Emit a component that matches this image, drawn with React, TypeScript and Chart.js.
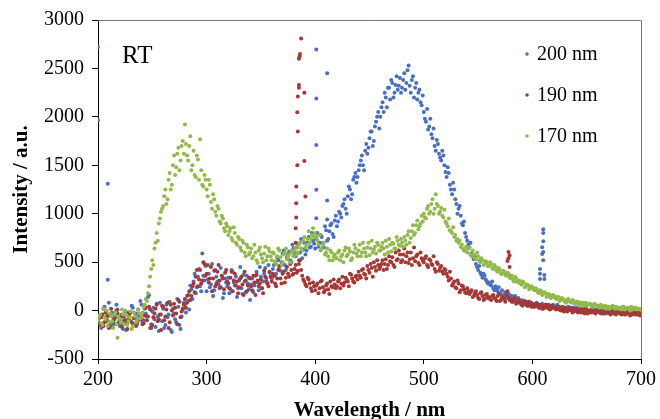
import React, { useEffect, useRef } from "react";
import { Chart, registerables } from "chart.js";

Chart.register(...registerables);

// ---------- DATA ----------
// Readings every 2 nm on even wavelengths (200..700) and on odd wavelengths (201..699)
const EVEN_START_NM = 200;
const ODD_START_NM = 201;
const STEP_NM = 2;

const SERIES_LABELS = ["200 nm", "190 nm", "170 nm"];
const RT_LABEL = "RT";
const X_TITLE = "Wavelength / nm";
const Y_TITLE = "Intensity / a.u.";

// 200 nm excitation (blue)
const blue200Even = [
  -120, -60, -150, 40, -90, 80, -40, -130, -70, 10,
  -160, -40, -100, -200, -20, -110, 30, -80, -140, -60,
  60, -100, -30, 140, -180, -10, -90, 70, -210, -40,
  20, -150, -70, 90, -220, -30, -120, 40, -190, 10,
  60, 150, 10, 220, 300, 180, 350, 250, 590, 310,
  200, 380, 270, 150, 420, 300, 230, 360, 180, 290,
  340, 220, 400, 260, 140, 310, 230, 370, 190, 280,
  110, 330, 260, 400, 210, 350, 300, 440, 280, 390,
  330, 470, 380, 520, 410, 590, 470, 550, 610, 500,
  640, 560, 690, 600, 540, 700, 620, 760, 660, 720,
  640, 800, 700, 760, 650, 830, 740, 880, 790, 930,
  870, 1020, 960, 1100, 1050, 1180, 1250, 1200, 1380, 1320,
  1450, 1550, 1500, 1650, 1620, 1780, 1850, 1750, 1950, 2050,
  2000, 2150, 2250, 2100, 2300, 2380, 2200, 2330, 2280, 2400,
  2300, 2450, 2350, 2530, 2250, 2420, 2300, 2180, 2280, 2120,
  2050, 1950, 1870, 1980, 1780, 1700, 1760, 1620, 1550, 1600,
  1430, 1480, 1300, 1200, 1250, 1100, 1050, 980, 880, 800,
  720, 650, 590, 530, 480, 420, 390, 340, 360, 300,
  290, 260, 230, 250, 200, 180, 210, 160, 140, 170,
  130, 120, 150, 100, 90, 110, 80, 70, 90, 60,
  70, 50, 80, 40, 60, 50, 60, 30, 50, 40,
  50, 30, 40, 20, 40, 10, 30, 20, 0, 30,
  10, 20, -10, 20, 0, 10, -20, 10, 0, -10,
  10, -20, 0, -10, -30, 0, -20, -10, -30, -10,
  -20, -30, 0, -40, -20, -10, -30, -20, -40, -10,
  -20,
];
const blue200Odd = [
  -80, -180, 20, -110, -50, -150, -20, -90, 60, -130,
  -70, -190, -10, -120, -60, 50, -140, -30, -100, 100,
  -120, 20, -60, 160, -140, 30, -170, -60, 80, -110,
  -180, 60, -40, -200, 20, -90, 120, -150, -60, 80,
  -20, 100, 260, 120, 380, 240, 430, 200, 360, 460,
  320, 240, 480, 210, 350, 270, 440, 130, 330, 250,
  180, 420, 290, 350, 230, 450, 170, 300, 360, 220,
  270, 190, 360, 290, 450, 230, 380, 330, 470, 350,
  430, 360, 550, 450, 500, 620, 420, 580, 520, 680,
  590, 650, 520, 740, 630, 580, 700, 650, 800, 690,
  740, 660, 780, 700, 870, 720, 820, 900, 760, 980,
  920, 1000, 1080, 1150, 1000, 1280, 1150, 1350, 1420, 1380,
  1500, 1600, 1450, 1720, 1680, 1850, 1700, 1900, 2000, 1880,
  2100, 2050, 2200, 2300, 2180, 2350, 2250, 2420, 2320, 2250,
  2380, 2280, 2480, 2320, 2380, 2200, 2350, 2250, 2150, 2220,
  1980, 2080, 1900, 1820, 1880, 1650, 1720, 1580, 1650, 1500,
  1380, 1420, 1250, 1320, 1150, 1000, 1080, 900, 920, 760,
  680, 700, 560, 560, 450, 460, 370, 380, 320, 280,
  270, 300, 210, 220, 240, 170, 150, 190, 130, 160,
  150, 100, 110, 130, 70, 100, 90, 50, 70, 80,
  40, 70, 60, 30, 70, 40, 60, 50, 20, 60,
  30, 60, 10, 40, 30, 0, 40, 10, 30, 20,
  30, 0, 20, -10, 20, -20, 0, 20, -10, 10,
  -10, 0, -30, 10, -20, -10, 0, -30, -20, 0,
  -30, -10, -20, -30, 0, -40, -20, -10, -30, -20,
];
// sharp lines of the 200 nm series
const blueSpikeX = [200, 200, 209, 209, 401, 411, 401, 401, 401, 411, 401, 411, 607, 607, 607, 611, 611, 610, 610, 610, 609, 610, 609, 610];
const blueSpikeY = [2720, 1965, 1310, 317, 2695, 2450, 2190, 1709, 1247, 1136, 952, 940, 430, 380, 327, 368, 327, 840, 800, 716, 655, 604, 583, 520];

// 190 nm excitation (red)
const red190Even = [
  -90, -150, -40, -120, -60, -180, 20, -100, -140, -30,
  -110, -170, -60, -130, -90, -20, -150, -70, -120, -40,
  -80, -130, 30, -60, 10, -150, -30, 60, -90, -200,
  40, -60, 80, -120, 0, 70, -30, 110, -70, 20,
  120, 80, 200, 150, 280, 350, 250, 420, 310, 480,
  380, 290, 450, 330, 250, 400, 310, 360, 220, 420,
  280, 340, 200, 380, 300, 240, 350, 160, 310, 260,
  330, 210, 290, 370, 250, 320, 180, 350, 280, 400,
  300, 360, 250, 420, 330, 380, 290, 450, 350, 420,
  380, 470, 410, 520, 360, 300, 250, 320, 230, 290,
  210, 280, 230, 310, 190, 260, 220, 300, 240, 270,
  250, 320, 280, 260, 340, 300, 380, 330, 290, 360,
  400, 340, 430, 370, 460, 390, 440, 500, 410, 470,
  450, 520, 480, 430, 560, 500, 470, 600, 530, 580,
  520, 640, 560, 490, 600, 540, 510, 580, 470, 540,
  500, 560, 450, 520, 470, 430, 500, 410, 460, 380,
  420, 350, 400, 260, 300, 230, 280, 210, 250, 190,
  230, 170, 210, 150, 200, 130, 180, 150, 120, 170,
  140, 110, 160, 120, 150, 100, 140, 120, 160, 130,
  110, 90, 130, 80, 100, 60, 90, 70, 50, 80,
  60, 40, 70, 30, 50, 20, 60, 40, 10, 50,
  30, 10, 40, 0, 20, 30, -10, 20, 10, -10,
  10, -20, 0, 10, -30, 0, -10, -20, 10, -30,
  -10, -20, 0, -30, -10, -20, -40, -10, -30, -20,
  -20, -40, -10, -30, -20, -50, -30, -20, -40, -30,
  -30,
];
const red190Odd = [
  -130, -70, -160, -20, -110, -50, -170, -80, 0, -120,
  -60, -140, -100, -190, -30, -120, -80, -160, 10, -90,
  -140, -50, -100, 40, -180, -70, 20, -110, -40, 50,
  -100, 10, -180, 60, -50, 30, -140, 90, -10, 60,
  30, 160, 110, 250, 190, 420, 320, 280, 500, 360,
  470, 330, 200, 410, 280, 470, 240, 330, 390, 300,
  230, 400, 310, 260, 180, 330, 270, 400, 200, 340,
  250, 360, 160, 310, 280, 230, 410, 300, 250, 350,
  380, 280, 330, 460, 280, 400, 340, 380, 480, 370,
  430, 390, 480, 420, 320, 270, 340, 280, 200, 250,
  260, 180, 300, 240, 210, 280, 170, 250, 320, 230,
  300, 230, 350, 290, 320, 250, 370, 300, 350, 320,
  360, 420, 380, 330, 420, 480, 350, 450, 520, 430,
  480, 420, 530, 470, 510, 550, 450, 520, 620, 500,
  580, 500, 600, 530, 470, 650, 560, 490, 600, 520,
  540, 470, 530, 480, 560, 400, 480, 440, 400, 430,
  380, 310, 330, 280, 240, 310, 190, 260, 220, 180,
  200, 190, 140, 180, 160, 120, 190, 110, 160, 130,
  120, 150, 130, 100, 170, 110, 130, 90, 200, 110,
  90, 120, 70, 110, 80, 50, 100, 60, 90, 40,
  50, 70, 40, 60, 20, 50, 30, 60, 20, 40,
  20, 40, 10, 30, -10, 20, 0, 30, -20, 20,
  -10, 10, -20, 0, 20, -30, 0, 10, -20, -10,
  0, -30, -10, -20, 10, -30, -20, 0, -40, -10,
  -30, -10, -40, -20, -30, -10, -40, -30, -20, -50,
];
const redSpikeX = [382, 382, 382.5, 382.5, 382.6, 383.5, 384, 383.5, 384, 385, 385, 385.6, 385, 386, 387, 390, 390, 391, 577, 578, 578, 579, 579, 580];
const redSpikeY = [700, 850, 962, 1108, 1282, 1500, 1850, 2047, 2210, 2300, 2330, 2627, 2600, 2650, 2808, 2250, 1545, 1177, 512, 540, 604, 570, 450, 360];

// 170 nm excitation (green)
const green170Even = [
  -100, -40, -150, -70, 0, -120, -60, -180, -20, -280,
  -90, 10, -140, -50, -110, -10, -160, -60, -100, -30,
  -60, 40, 120, 180, 350, 520, 640, 800, 900, 1020,
  1080, 1250, 1150, 1420, 1300, 1600, 1480, 1680, 1550, 1750,
  1920, 1600, 1700, 1450, 1650, 1380, 1560, 1770, 1300, 1400,
  1250, 1350, 1120, 1200, 1020, 1080, 920, 980, 850, 900,
  780, 850, 720, 800, 680, 740, 620, 700, 560, 650,
  600, 540, 680, 520, 620, 580, 500, 660, 560, 610,
  520, 590, 480, 640, 550, 500, 600, 530, 580, 620,
  560, 650, 600, 700, 620, 760, 680, 820, 740, 850,
  800, 720, 780, 640, 700, 600, 560, 620, 520, 580,
  540, 620, 560, 500, 650, 580, 610, 540, 680, 590,
  620, 560, 700, 600, 650, 570, 720, 630, 590, 680,
  620, 700, 580, 660, 740, 610, 690, 640, 720, 670,
  700, 760, 680, 820, 750, 880, 800, 930, 870, 980,
  1000, 950, 1080, 1020, 1150, 1050, 1100, 1000, 1060, 960,
  920, 870, 830, 800, 760, 720, 700, 660, 640, 620,
  600, 650, 560, 580, 530, 560, 500, 520, 480, 500,
  460, 480, 430, 450, 400, 420, 380, 400, 360, 380,
  340, 320, 350, 300, 310, 270, 290, 250, 260, 230,
  240, 210, 220, 180, 200, 170, 180, 150, 160, 140,
  150, 120, 140, 110, 120, 90, 110, 100, 80, 100,
  70, 90, 60, 80, 70, 50, 70, 60, 40, 60,
  50, 30, 50, 40, 20, 40, 30, 50, 20, 30,
  30, 10, 40, 20, 30, 0, 20, 30, 10, 20,
  10,
];
const green170Odd = [
  -60, -130, 20, -90, -160, -30, -110, -40, -140, -70,
  -120, -40, 0, -150, -70, -190, -20, -120, 10, -80,
  -20, 60, 100, 250, 430, 470, 700, 720, 950, 1050,
  1180, 1100, 1350, 1250, 1500, 1400, 1620, 1450, 1700, 1620,
  1720, 1550, 1800, 1500, 1400, 1600, 1350, 1450, 1280, 1350,
  1180, 1300, 1050, 1150, 980, 1050, 900, 950, 820, 870,
  820, 750, 860, 700, 760, 650, 720, 600, 680, 580,
  640, 560, 600, 490, 650, 540, 590, 520, 640, 560,
  600, 510, 560, 620, 470, 580, 640, 560, 500, 600,
  620, 580, 680, 640, 720, 650, 740, 700, 780, 760,
  760, 680, 620, 680, 580, 640, 520, 600, 560, 540,
  600, 520, 580, 620, 560, 640, 520, 600, 640, 560,
  680, 600, 640, 560, 700, 640, 600, 660, 700, 620,
  660, 640, 720, 600, 680, 700, 640, 760, 680, 740,
  660, 720, 780, 700, 820, 780, 880, 840, 900, 920,
  960, 1050, 1000, 1100, 1000, 1200, 1080, 1020, 980, 1040,
  900, 950, 820, 860, 780, 740, 720, 680, 620, 660,
  640, 580, 620, 540, 600, 520, 540, 470, 510, 460,
  500, 440, 470, 410, 440, 380, 410, 370, 390, 340,
  360, 300, 330, 290, 280, 300, 240, 270, 220, 250,
  220, 230, 190, 210, 160, 190, 140, 170, 130, 160,
  130, 140, 100, 130, 110, 80, 120, 90, 110, 70,
  90, 60, 80, 50, 80, 60, 70, 40, 70, 50,
  40, 60, 30, 50, 40, 20, 40, 30, 40, 20,
  20, 40, 10, 30, 20, 40, 10, 30, 20, 10,
];

const X_MIN = 200;
const X_MAX = 700;
const X_STEP = 100;
const Y_MIN = -500;
const Y_MAX = 3000;
const Y_STEP = 500;

// ---------- STYLE ----------
const BLUE = "#4a6fc0";
const RED = "#a33835";
const GREEN = "#92b94b";
const SERIF = '"Liberation Serif", "Times New Roman", serif';

function toPoints(even: number[], odd: number[], sx: number[], sy: number[]) {
  const pts: { x: number; y: number }[] = [];
  even.forEach((v, i) => pts.push({ x: EVEN_START_NM + i * STEP_NM, y: v }));
  odd.forEach((v, i) => pts.push({ x: ODD_START_NM + i * STEP_NM, y: v }));
  sx.forEach((x, i) => pts.push({ x, y: sy[i] }));
  return pts;
}

const overlayPlugin = {
  id: "overlay",
  afterDraw(chart: any) {
    const { ctx, chartArea: a } = chart;
    ctx.save();
    // top/right frame
    ctx.strokeStyle = "#777";
    ctx.lineWidth = 1;
    ctx.beginPath();
    ctx.moveTo(a.left, Math.round(a.top) + 0.5);
    ctx.lineTo(Math.round(a.right) + 0.5, Math.round(a.top) + 0.5);
    ctx.lineTo(Math.round(a.right) + 0.5, a.bottom);
    ctx.stroke();

    ctx.fillStyle = "#000";
    // RT label
    ctx.font = `25px ${SERIF}`;
    ctx.textAlign = "left";
    ctx.textBaseline = "middle";
    ctx.fillText(RT_LABEL, 122, 56);

    // legend
    const colors = [BLUE, RED, GREEN];
    const ys = [54, 95, 136];
    ctx.font = `20px ${SERIF}`;
    SERIES_LABELS.forEach((lab, i) => {
      ctx.fillStyle = colors[i];
      ctx.beginPath();
      ctx.arc(527, ys[i], 1.8, 0, Math.PI * 2);
      ctx.fill();
      ctx.fillStyle = "#000";
      ctx.fillText(lab, 537, ys[i] + 1);
    });

    // axis titles
    ctx.font = `bold 21px ${SERIF}`;
    ctx.textAlign = "center";
    ctx.textBaseline = "middle";
    ctx.fillText(X_TITLE, (a.left + a.right) / 2, 411);
    ctx.save();
    ctx.translate(22, (a.top + a.bottom) / 2);
    ctx.rotate(-Math.PI / 2);
    ctx.fillText(Y_TITLE, 0, 0);
    ctx.restore();
    ctx.restore();
  },
};

export default function App() {
  const ref = useRef<HTMLCanvasElement | null>(null);
  useEffect(() => {
    document.body.style.margin = "0";
    if (!ref.current) return;
    const pointOpts = { pointRadius: 2, pointHoverRadius: 2, pointBorderWidth: 0, showLine: false };
    const chart = new Chart(ref.current, {
      type: "scatter",
      data: {
        datasets: [
          { label: SERIES_LABELS[0], data: toPoints(blue200Even, blue200Odd, blueSpikeX, blueSpikeY), backgroundColor: BLUE, borderColor: BLUE, order: 3, ...pointOpts },
          { label: SERIES_LABELS[1], data: toPoints(red190Even, red190Odd, redSpikeX, redSpikeY), backgroundColor: RED, borderColor: RED, order: 2, ...pointOpts },
          { label: SERIES_LABELS[2], data: toPoints(green170Even, green170Odd, [], []), backgroundColor: GREEN, borderColor: GREEN, order: 1, ...pointOpts },
        ],
      },
      options: {
        animation: false,
        responsive: false,
        devicePixelRatio: 1,
        layout: { padding: { left: 0, right: 18, top: 17, bottom: 0 } },
        plugins: { legend: { display: false }, tooltip: { enabled: false } },
        scales: {
          x: {
            type: "linear",
            min: X_MIN,
            max: X_MAX,
            afterFit: (s: any) => { s.height = 60; },
            ticks: {
              stepSize: X_STEP,
              color: "#000",
              font: { family: SERIF, size: 20 },
              padding: 4,
              maxRotation: 0,
              callback: (v: any) => String(v),
            },
            grid: { drawOnChartArea: false, drawTicks: true, tickLength: 5, color: "#000" },
            border: { color: "#000", width: 1 },
          },
          y: {
            type: "linear",
            min: Y_MIN,
            max: Y_MAX,
            afterFit: (s: any) => { s.width = 98; },
            ticks: {
              stepSize: Y_STEP,
              color: "#000",
              font: { family: SERIF, size: 20 },
              padding: 8,
              callback: (v: any) => String(v),
            },
            grid: { drawOnChartArea: false, drawTicks: true, tickLength: 6, color: "#000" },
            border: { color: "#000", width: 1 },
          },
        },
      },
      plugins: [overlayPlugin],
    });
    return () => chart.destroy();
  }, []);
  return (
    <div style={{ width: 660, height: 419 }}>
      <canvas ref={ref} width={660} height={419} />
    </div>
  );
}
